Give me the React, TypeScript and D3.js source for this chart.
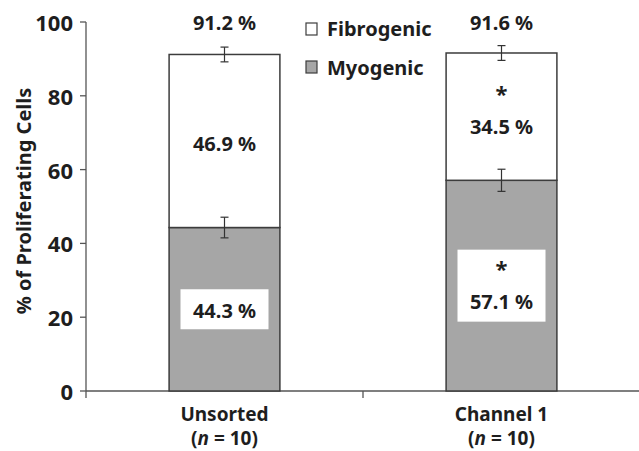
import React from "react";
import * as d3 from "d3";

const categories = ["Unsorted", "Channel 1"];
const nLabels = ["10", "10"];
const myogenic = [44.3, 57.1];
const fibrogenic = [46.9, 34.5];
const totals = [91.2, 91.6];
const myogenicErr = [2.8, 3.0];
const totalErr = [2.0, 2.0];
const significant = [false, true];
const yTicks = [0, 20, 40, 60, 80, 100];
const seriesNames = ["Fibrogenic", "Myogenic"];

const W = 639;
const H = 451;
const FONT = "'Noto Sans', 'Open Sans', sans-serif";
const FS = 20;
const TXT = "#1e1e1e";
const GRAY = "#a6a6a6";
const EDGE = "#3c3c3c";

export default function App() {
  const y = d3.scaleLinear().domain([0, 100]).range([391, 22]);
  const x = d3.scaleBand<string>().domain(categories).range([86, 640]).padding(0);
  const bw = x.bandwidth() * 0.4;
  const fmt = (v: number) => `${v.toFixed(1)} %`;

  return (
    <div style={{ position: "absolute", left: 0, top: 0 }}>
      <svg width={W} height={H} style={{ display: "block", background: "#fff" }} fontFamily={FONT}>
        {/* axes */}
        <line x1={86} x2={86} y1={y(100)} y2={y(0) + 7} stroke="#555" strokeWidth={1.3} />
        <line x1={86} x2={640} y1={y(0)} y2={y(0)} stroke="#555" strokeWidth={1.3} />
        {categories.slice(1).map((c) => (
          <line key={c} x1={x(c)!} x2={x(c)!} y1={y(0)} y2={y(0) + 7} stroke="#555" strokeWidth={1.3} />
        ))}
        {yTicks.map((t) => (
          <g key={t}>
            <line x1={80} x2={86} y1={y(t)} y2={y(t)} stroke="#555" strokeWidth={1.3} />
            <text x={73} y={y(t)} textAnchor="end" dominantBaseline="central" fontSize={22} fontWeight="bold" fill={TXT}>
              {t}
            </text>
          </g>
        ))}
        <text
          transform={`translate(23,${y(51.5)}) rotate(-90)`}
          textAnchor="middle"
          dominantBaseline="central"
          fontSize={FS}
          fontWeight="bold"
          fill={TXT}
        >
          % of Proliferating Cells
        </text>

        {categories.map((c, i) => {
          const cx = x(c)! + x.bandwidth() / 2;
          const x0 = cx - bw / 2;
          const yMyo = y(myogenic[i]);
          const yTot = y(totals[i]);
          const myoMid = (yMyo + y(0)) / 2;
          const fibMid = (yTot + yMyo) / 2;
          const boxH = significant[i] ? 72 : 40;
          const boxW = 88;
          return (
            <g key={c}>
              <rect x={x0} y={yMyo} width={bw} height={y(0) - yMyo} fill={GRAY} stroke={EDGE} strokeWidth={1.5} />
              <rect x={x0} y={yTot} width={bw} height={yMyo - yTot} fill="#fff" stroke={EDGE} strokeWidth={1.5} />
              {/* error bars */}
              {[
                [myogenic[i], myogenicErr[i]],
                [totals[i], totalErr[i]],
              ].map(([v, e], k) => (
                <g key={k} stroke="#333" strokeWidth={1.2}>
                  <line x1={cx} x2={cx} y1={y(v + e)} y2={y(v - e)} />
                  <line x1={cx - 4} x2={cx + 4} y1={y(v + e)} y2={y(v + e)} />
                  <line x1={cx - 4} x2={cx + 4} y1={y(v - e)} y2={y(v - e)} />
                </g>
              ))}
              {/* total label */}
              <text x={cx} y={y(100)} textAnchor="middle" dominantBaseline="central" fontSize={FS} fontWeight="bold" fill={TXT}>
                {fmt(totals[i])}
              </text>
              {/* fibrogenic label */}
              {significant[i] ? (
                <>
                  <text x={cx} y={fibMid - 24} textAnchor="middle" dominantBaseline="central" fontSize={FS + 2} fontWeight="bold" fill={TXT}>
                    *
                  </text>
                  <text x={cx} y={fibMid + 10} textAnchor="middle" dominantBaseline="central" fontSize={FS} fontWeight="bold" fill={TXT}>
                    {fmt(fibrogenic[i])}
                  </text>
                </>
              ) : (
                <text x={cx} y={fibMid + 2} textAnchor="middle" dominantBaseline="central" fontSize={FS} fontWeight="bold" fill={TXT}>
                  {fmt(fibrogenic[i])}
                </text>
              )}
              {/* myogenic label box */}
              <rect x={cx - boxW / 2} y={myoMid - boxH / 2} width={boxW} height={boxH} fill="#fff" />
              {significant[i] ? (
                <>
                  <text x={cx} y={myoMid - 18} textAnchor="middle" dominantBaseline="central" fontSize={FS + 2} fontWeight="bold" fill={TXT}>
                    *
                  </text>
                  <text x={cx} y={myoMid + 16} textAnchor="middle" dominantBaseline="central" fontSize={FS} fontWeight="bold" fill={TXT}>
                    {fmt(myogenic[i])}
                  </text>
                </>
              ) : (
                <text x={cx} y={myoMid + 1} textAnchor="middle" dominantBaseline="central" fontSize={FS} fontWeight="bold" fill={TXT}>
                  {fmt(myogenic[i])}
                </text>
              )}
              {/* category label (two lines in one text) */}
              <text x={cx} y={y(0) + 23} textAnchor="middle" dominantBaseline="central" fontSize={19} fontWeight="bold" fill={TXT}>
                <tspan x={cx}>{c}</tspan>
                <tspan x={cx} dy={24}>
                  (<tspan fontStyle="italic">n</tspan> = {nLabels[i]})
                </tspan>
              </text>
            </g>
          );
        })}

        {/* legend */}
        {seriesNames.map((s, i) => (
          <g key={s}>
            <rect x={306} y={23 + i * 38} width={11} height={12} fill={i === 0 ? "#fff" : GRAY} stroke={EDGE} strokeWidth={1.2} />
            <text x={327} y={28 + i * 39} dominantBaseline="central" fontSize={FS} fontWeight="bold" fill={TXT}>
              {s}
            </text>
          </g>
        ))}
      </svg>
    </div>
  );
}
